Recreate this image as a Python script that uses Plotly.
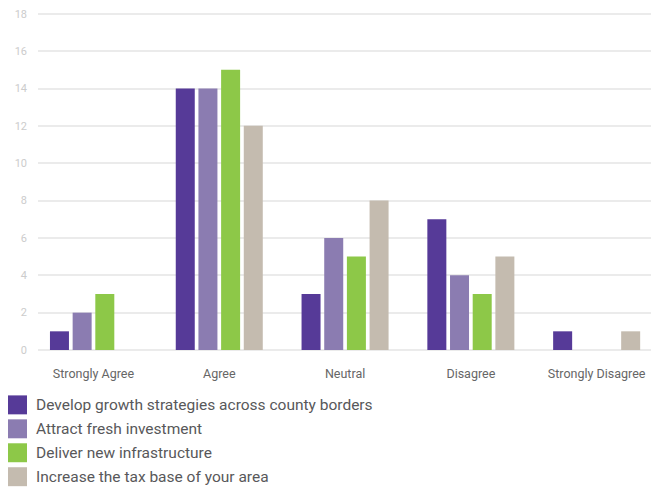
import plotly.graph_objects as go

categories = ["Strongly Agree", "Agree", "Neutral", "Disagree", "Strongly Disagree"]
series_names = [
    "Develop growth strategies across county borders",
    "Attract fresh investment",
    "Deliver new infrastructure",
    "Increase the tax base of your area",
]
develop_growth = [1, 14, 3, 7, 1]
attract_investment = [2, 14, 6, 4, 0]
deliver_infrastructure = [3, 15, 5, 3, 0]
increase_tax_base = [0, 12, 8, 5, 1]
series_values = [develop_growth, attract_investment, deliver_infrastructure, increase_tax_base]
colors = ["#563a98", "#8b7cb1", "#8dc848", "#c4bbaf"]
y_ticks = [0, 2, 4, 6, 8, 10, 12, 14, 16, 18]

fig = go.Figure()
for name, vals, col in zip(series_names, series_values, colors):
    fig.add_trace(go.Bar(x=categories, y=vals, name=name, marker=dict(color=col, line=dict(width=0))))

Y_TOP = 18.15
px_per_unit = (350.5 - 13.5) / 18
W, H = 651, 488
L = 38
T = 13.5 - (Y_TOP - 18) * px_per_unit
B = 488 - 350.5
PW, PH = W - L, H - T - B

fig.update_layout(
    width=W, height=H,
    margin=dict(l=L, r=0, t=T, b=B, pad=0),
    plot_bgcolor="white", paper_bgcolor="white",
    barmode="group", bargap=0.279, bargroupgap=0.162,
    showlegend=False,
    font=dict(family="Roboto, sans-serif"),
    xaxis=dict(
        range=[-0.441, 4.432], showgrid=False, showline=False, zeroline=False,
        ticks="", tickfont=dict(size=12.5, color="#666666"), ticklabelstandoff=14,
    ),
    yaxis=dict(
        range=[0, Y_TOP], tickvals=y_ticks, showgrid=True, gridcolor="#ebebeb", gridwidth=1.5,
        zeroline=True, zerolinecolor="#ebebeb", zerolinewidth=1.5, showline=False,
        ticks="", tickfont=dict(size=11, color="#cccccc"), ticklabelstandoff=10,
    ),
)

# legend drawn with shapes and annotations (pixel positions converted to paper coords)
def px(x):
    return (x - L) / PW

def py(y):
    return (H - B - y) / PH

for i, (name, col) in enumerate(zip(series_names, colors)):
    yc = 405.5 + i * 24
    fig.add_shape(type="rect", xref="paper", yref="paper",
                  x0=px(8), x1=px(27), y0=py(yc + 9.5), y1=py(yc - 9.5),
                  fillcolor=col, line=dict(width=0))
    fig.add_annotation(xref="paper", yref="paper", x=px(34), y=py(yc),
                       text=name, showarrow=False, xanchor="left", yanchor="middle",
                       font=dict(size=15.5, color="#58585a"))

fig.write_html(
    "out.html",
    config={"displayModeBar": False},
    post_script="document.body.style.margin='0';document.body.style.overflow='hidden';",
)
